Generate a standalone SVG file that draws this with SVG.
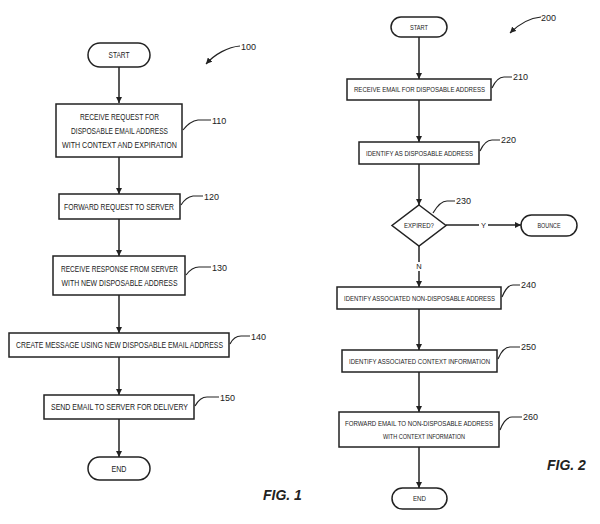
<svg xmlns="http://www.w3.org/2000/svg" width="600" height="524" viewBox="0 0 600 524">
<style>
.box{fill:#fff;stroke:#222;stroke-width:1.5}
.t1{font-family:"Liberation Sans",Arial,sans-serif;font-size:9px;fill:#222;text-anchor:middle;dominant-baseline:central}
.t2{font-family:"Liberation Sans",Arial,sans-serif;font-size:7.5px;fill:#222;text-anchor:middle;dominant-baseline:central}
.ref{font-family:"Liberation Sans",Arial,sans-serif;font-size:9px;fill:#222}
.lead{fill:none;stroke:#222;stroke-width:1.2}
.c{fill:none;stroke:#222;stroke-width:1.5}
.fig{font-family:"Liberation Sans",Arial,sans-serif;font-size:14px;font-weight:bold;font-style:italic;fill:#222}
</style>
<defs>
<marker id="ah" viewBox="0 0 10 10" refX="10" refY="5" markerWidth="6" markerHeight="6" orient="auto" markerUnits="userSpaceOnUse">
<path d="M0,0 L10,5 L0,10 z" fill="#222"/>
</marker>
</defs>
<rect width="600" height="524" fill="#fff"/>

<g id="connectors">
<line class="c" x1="119" y1="67" x2="119" y2="103" marker-end="url(#ah)"/>
<line class="c" x1="119" y1="157" x2="119" y2="194" marker-end="url(#ah)"/>
<line class="c" x1="119" y1="219" x2="119" y2="256" marker-end="url(#ah)"/>
<line class="c" x1="119" y1="295" x2="119" y2="333" marker-end="url(#ah)"/>
<line class="c" x1="119" y1="357" x2="119" y2="395" marker-end="url(#ah)"/>
<line class="c" x1="119" y1="419" x2="119" y2="457" marker-end="url(#ah)"/>

<line class="c" x1="419" y1="37" x2="419" y2="79" marker-end="url(#ah)"/>
<line class="c" x1="419" y1="100" x2="419" y2="142" marker-end="url(#ah)"/>
<line class="c" x1="419" y1="164" x2="419" y2="205" marker-end="url(#ah)"/>
<line class="c" x1="446" y1="225" x2="479" y2="225"/>
<line class="c" x1="488" y1="225" x2="521" y2="225" marker-end="url(#ah)"/>
<text class="t2" x="483.5" y="225">Y</text>
<line class="c" x1="419" y1="246" x2="419" y2="262"/>
<line class="c" x1="419" y1="271" x2="419" y2="287" marker-end="url(#ah)"/>
<text class="t2" x="419" y="266.5">N</text>
<line class="c" x1="419" y1="309" x2="419" y2="350" marker-end="url(#ah)"/>
<line class="c" x1="419" y1="372" x2="419" y2="412" marker-end="url(#ah)"/>
<line class="c" x1="419" y1="447" x2="419" y2="488" marker-end="url(#ah)"/>
</g>

<g id="ref100">
<path class="lead" d="M240,46 C228,47 215,54 206,64" marker-end="url(#ah)"/>
<text class="ref" x="241" y="50">100</text>
</g>
<g id="start1">
<rect class="box" x="88" y="43" width="62" height="24" rx="12"/>
<text class="t1" x="119" y="55" textLength="21" lengthAdjust="spacingAndGlyphs">START</text>
</g>
<g id="n110">
<rect class="box" x="56" y="104" width="126" height="53"/>
<text class="t1" x="119.5" y="117" textLength="79" lengthAdjust="spacingAndGlyphs">RECEIVE REQUEST FOR</text>
<text class="t1" x="119.5" y="131" textLength="97" lengthAdjust="spacingAndGlyphs">DISPOSABLE EMAIL ADDRESS</text>
<text class="t1" x="119.5" y="145" textLength="115" lengthAdjust="spacingAndGlyphs">WITH CONTEXT AND EXPIRATION</text>
<path class="lead" d="M183,130 Q190,121 198,120 L211,120"/>
<text class="ref" x="212" y="124">110</text>
</g>
<g id="n120">
<rect class="box" x="59" y="194" width="121" height="25"/>
<text class="t1" x="119" y="207" textLength="110" lengthAdjust="spacingAndGlyphs">FORWARD REQUEST TO SERVER</text>
<path class="lead" d="M181,205 Q186,197 193,196 L203,196"/>
<text class="ref" x="204" y="200">120</text>
</g>
<g id="n130">
<rect class="box" x="53" y="256" width="132" height="39"/>
<text class="t1" x="119.5" y="269" textLength="117" lengthAdjust="spacingAndGlyphs">RECEIVE RESPONSE FROM SERVER</text>
<text class="t1" x="119.5" y="283" textLength="116" lengthAdjust="spacingAndGlyphs">WITH NEW DISPOSABLE ADDRESS</text>
<path class="lead" d="M186,275 Q192,267 199,267 L211,267"/>
<text class="ref" x="212" y="271">130</text>
</g>
<g id="n140">
<rect class="box" x="9" y="333" width="220" height="24"/>
<text class="t1" x="119.5" y="345" textLength="207" lengthAdjust="spacingAndGlyphs">CREATE MESSAGE USING NEW DISPOSABLE EMAIL ADDRESS</text>
<path class="lead" d="M230,344 Q234,336 241,336 L250,336"/>
<text class="ref" x="251" y="340">140</text>
</g>
<g id="n150">
<rect class="box" x="44" y="395" width="150" height="24"/>
<text class="t1" x="119.5" y="407" textLength="137" lengthAdjust="spacingAndGlyphs">SEND EMAIL TO SERVER FOR DELIVERY</text>
<path class="lead" d="M195,406 Q200,397 207,397 L219,397"/>
<text class="ref" x="220" y="401">150</text>
</g>
<g id="end1">
<rect class="box" x="88" y="457" width="62" height="23" rx="11.5"/>
<text class="t1" x="119" y="468.5" textLength="15" lengthAdjust="spacingAndGlyphs">END</text>
</g>
<text class="fig" x="263" y="500">FIG. 1</text>

<g id="ref200">
<path class="lead" d="M541,17 C530,18 519,24 510,33" marker-end="url(#ah)"/>
<text class="ref" x="541" y="21" font-size="8">200</text>
</g>
<g id="start2">
<rect class="box" x="391" y="17" width="56" height="20" rx="10"/>
<text class="t2" x="419" y="27" textLength="18" lengthAdjust="spacingAndGlyphs">START</text>
</g>
<g id="n210">
<rect class="box" x="347" y="79" width="144" height="21"/>
<text class="t2" x="419.5" y="89.5" textLength="131" lengthAdjust="spacingAndGlyphs">RECEIVE EMAIL FOR DISPOSABLE ADDRESS</text>
<path class="lead" d="M492,88 Q497,77 504,77 L512,77"/>
<text class="ref" x="513" y="80" font-size="8">210</text>
</g>
<g id="n220">
<rect class="box" x="359" y="142" width="120" height="22"/>
<text class="t2" x="419.5" y="153" textLength="107" lengthAdjust="spacingAndGlyphs">IDENTIFY AS DISPOSABLE ADDRESS</text>
<path class="lead" d="M480,151 Q485,140 492,140 L500,140"/>
<text class="ref" x="501" y="143" font-size="8">220</text>
</g>
<g id="n230">
<polygon class="box" points="419,205 446,225.5 419,246 392,225.5"/>
<text class="t2" x="419" y="225.5" textLength="30" lengthAdjust="spacingAndGlyphs">EXPIRED?</text>
<path class="lead" d="M433,213 Q440,201 447,201 L455,201"/>
<text class="ref" x="456" y="204" font-size="8">230</text>
</g>
<g id="bounce">
<rect class="box" x="521" y="215" width="56" height="21" rx="10.5"/>
<text class="t2" x="549" y="225.5" textLength="23" lengthAdjust="spacingAndGlyphs">BOUNCE</text>
</g>
<g id="n240">
<rect class="box" x="337" y="287" width="164" height="22"/>
<text class="t2" x="419.5" y="298" textLength="151" lengthAdjust="spacingAndGlyphs">IDENTIFY ASSOCIATED NON-DISPOSABLE ADDRESS</text>
<path class="lead" d="M502,297 Q507,285 513,285 L520,285"/>
<text class="ref" x="521" y="288" font-size="8">240</text>
</g>
<g id="n250">
<rect class="box" x="342" y="350" width="155" height="22"/>
<text class="t2" x="419.5" y="361" textLength="141" lengthAdjust="spacingAndGlyphs">IDENTIFY ASSOCIATED CONTEXT INFORMATION</text>
<path class="lead" d="M498,359 Q503,347 510,347 L520,347"/>
<text class="ref" x="521" y="350" font-size="8">250</text>
</g>
<g id="n260">
<rect class="box" x="339" y="412" width="160" height="35"/>
<text class="t2" x="419" y="423.5" textLength="148" lengthAdjust="spacingAndGlyphs">FORWARD EMAIL TO NON-DISPOSABLE ADDRESS</text>
<text class="t2" x="424" y="436" textLength="82" lengthAdjust="spacingAndGlyphs">WITH CONTEXT INFORMATION</text>
<path class="lead" d="M500,430 Q505,417 512,417 L522,417"/>
<text class="ref" x="523" y="420" font-size="8">260</text>
</g>
<g id="end2">
<rect class="box" x="392" y="488" width="55" height="21" rx="10.5"/>
<text class="t2" x="419.5" y="498.5" textLength="13" lengthAdjust="spacingAndGlyphs">END</text>
</g>
<text class="fig" x="547" y="470" font-size="12">FIG. 2</text>
</svg>
